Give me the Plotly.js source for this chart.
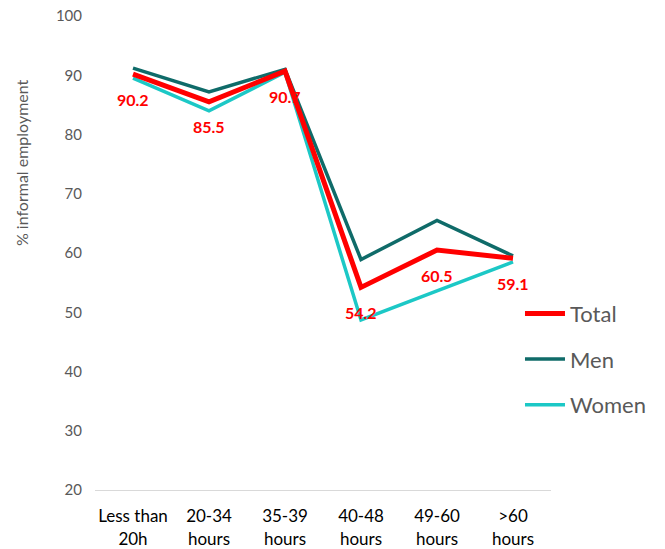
<!DOCTYPE html>
<html>
<head>
<meta charset="utf-8">
<script src="https://cdn.plot.ly/plotly-3.0.1.min.js"></script>
<style>html,body{margin:0;padding:0;background:#fff;}#chart{width:665px;height:549px;}</style>
</head>
<body>
<div id="chart"></div>
<script>
const categories = ["Less than<br>20h", "20-34<br>hours", "35-39<br>hours", "40-48<br>hours", "49-60<br>hours", ">60<br>hours"];
const total = [90.2, 85.5, 90.7, 54.2, 60.5, 59.1];
const men = [91.2, 87.2, 91.0, 58.9, 65.5, 59.5];
const women = [89.5, 84.0, 90.5, 48.7, 53.6, 58.5];
const yTicks = [20, 30, 40, 50, 60, 70, 80, 90, 100];
const yTitle = "% informal employment";

const FONT = "Lato, 'Open Sans', sans-serif";

const traces = [
  {x: categories, y: men, name: "Men", type: "scatter", mode: "lines",
   line: {color: "#0F6B69", width: 3.5}, legendgroup: "m", legendrank: 2},
  {x: categories, y: women, name: "Women", type: "scatter", mode: "lines",
   line: {color: "#1CC8C6", width: 3.5}, legendgroup: "w", legendrank: 3},
  {x: categories, y: total, name: "Total", type: "scatter", mode: "lines",
   line: {color: "#FF0000", width: 5}, legendgroup: "t", legendrank: 1}
];

const annotations = total.map((v, i) => ({
  x: categories[i], y: v, xref: "x", yref: "y",
  text: v.toFixed(1), showarrow: false, yshift: -25,
  font: {family: FONT, size: 16, color: "#FF0000", weight: "bold"}
}));
annotations.push({
  xref: "paper", yref: "paper", x: -0.161, y: 0.691, xanchor: "center", yanchor: "middle",
  text: yTitle, textangle: -90, showarrow: false,
  font: {family: FONT, size: 16, color: "#595959"}
});

const layout = {
  width: 665, height: 549,
  margin: {l: 95, r: 114, t: 16, b: 59},
  paper_bgcolor: "#fff", plot_bgcolor: "#fff",
  font: {family: FONT},
  showlegend: true,
  legend: {x: 0.932, xanchor: "left", y: 0.276, yanchor: "middle",
    font: {family: FONT, size: 22, color: "#595959"},
    tracegroupgap: 14, itemwidth: 40, bgcolor: "rgba(0,0,0,0)"},
  xaxis: {type: "category", range: [-0.5, categories.length - 0.5],
    showgrid: false, zeroline: false,
    showline: true, linecolor: "#D9D9D9", linewidth: 1,
    tickfont: {family: FONT, size: 17, color: "#000"}, ticks: "", ticklabelstandoff: 11},
  yaxis: {range: [20, 100], tickvals: yTicks, showgrid: false, zeroline: false,
    showline: false, ticks: "", ticklabelstandoff: 12,
    tickfont: {family: FONT, size: 15, color: "#595959"}},
  annotations: annotations
};

Plotly.newPlot("chart", traces, layout, {displayModeBar: false, staticPlot: true});
</script>
</body>
</html>
